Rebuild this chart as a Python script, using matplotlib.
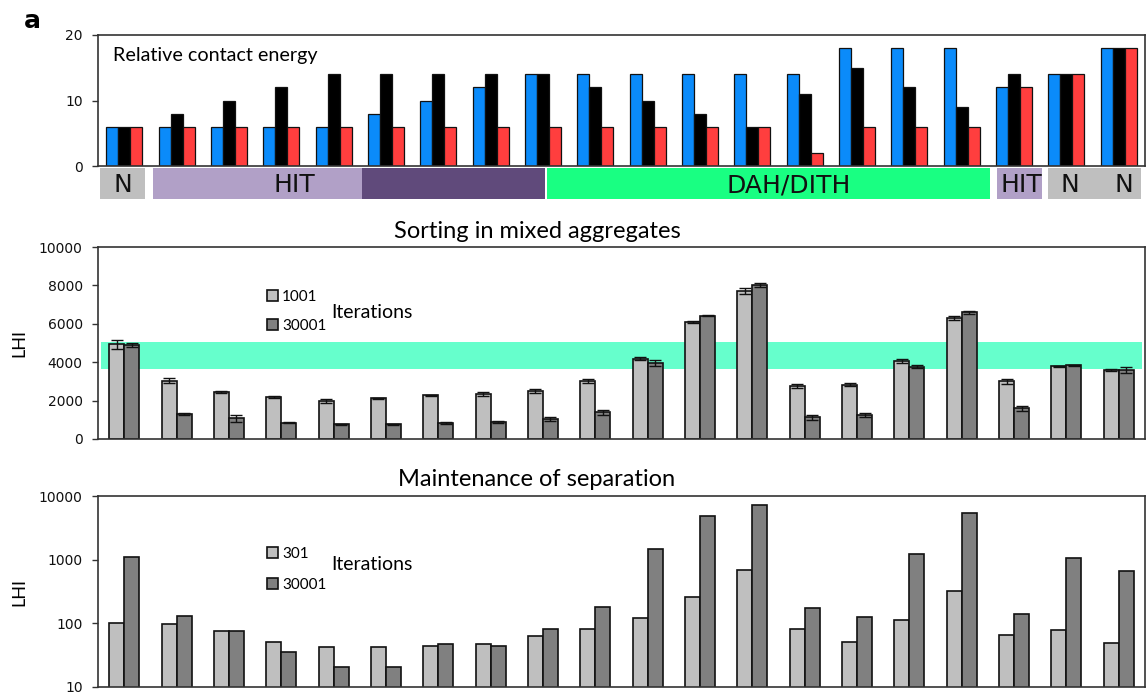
import matplotlib
matplotlib.use("Agg")
import matplotlib.pyplot as plt
from matplotlib.patches import Rectangle
import numpy as np

# ---------------- data ----------------
groups = list(range(1, 21))

# Relative contact energy (three contacts per condition)
energy_blue = [6, 6, 6, 6, 6, 8, 10, 12, 14, 14, 14, 14, 14, 14, 18, 18, 18, 12, 14, 18]
energy_black = [6, 8, 10, 12, 14, 14, 14, 14, 14, 12, 10, 8, 6, 11, 15, 12, 9, 14, 14, 18]
energy_red = [6, 6, 6, 6, 6, 6, 6, 6, 6, 6, 6, 6, 6, 2, 6, 6, 6, 12, 14, 18]

# Category band: spans in group units, colours, labels
band_starts = [0.04, 1.05, 5.04, 8.58, 17.17, 18.15]
band_ends = [0.90, 5.04, 8.54, 17.04, 18.03, 19.92]
band_colors = ["#BFBFBF", "#B1A0C7", "#604A7B", "#19FF82", "#B1A0C7", "#BFBFBF"]
band_labels = ["N", "HIT", "DAH/DITH", "HIT", "N", "N"]
band_label_x = [0.47, 3.76, 13.2, 17.63, 18.57, 19.6]

# Sorting in mixed aggregates (LHI)
sort_1001 = [4940, 3030, 2450, 2190, 1980, 2120, 2280, 2350, 2520, 3040,
             4170, 6090, 7720, 2770, 2820, 4070, 6310, 3000, 3790, 3580]
sort_1001_err = [230, 130, 60, 50, 110, 40, 30, 100, 110, 100,
                 80, 70, 150, 120, 80, 110, 120, 120, 30, 40]
sort_30001 = [4900, 1300, 1080, 850, 770, 770, 830, 900, 1030, 1390,
              3950, 6420, 8000, 1130, 1250, 3770, 6590, 1600, 3840, 3600]
sort_30001_err = [110, 30, 170, 40, 20, 30, 60, 60, 110, 120,
                  150, 30, 100, 130, 120, 90, 80, 120, 40, 150]
sort_band = (3650, 5050)

# Maintenance of separation (LHI, log scale)
maint_301 = [103, 96, 75, 51, 42, 42.6, 44.7, 47.5, 62.7, 81,
             122, 258, 700, 81, 50, 112, 320, 65, 78, 49.6]
maint_30001 = [1097, 129, 77, 36, 20.4, 20.4, 47.5, 43.6, 80.7, 180,
               1477, 4920, 7330, 173, 128, 1233, 5354, 140, 1055, 667]

# ---------------- style ----------------
W, H = 1148, 695
fig = plt.figure(figsize=(W / 100, H / 100), dpi=100)
plt.rcParams['font.family'] = ['DejaVu Sans']
TXT = ['Lato', 'DejaVu Sans']

BLUE = "#0B8BFA"
RED = "#FF3E3E"
LIGHT = "#BFBFBF"
DARK = "#808080"
SPINE = "#333333"


def fax(x0, y0, x1, y1):
    """axes from pixel box (top-left origin)"""
    return fig.add_axes([x0 / W, 1 - y1 / H, (x1 - x0) / W, (y1 - y0) / H])


def style(ax):
    for s in ax.spines.values():
        s.set_color(SPINE)
        s.set_linewidth(1.2)
    ax.tick_params(axis='y', which='major', length=4, width=1, color=SPINE,
                   labelsize=10, pad=7, labelcolor="#111111")
    ax.tick_params(axis='x', which='both', bottom=False, labelbottom=False)
    ax.set_xlim(0, 20)


x = np.arange(20) + 0.5

# ---------------- top panel ----------------
ax1 = fax(98, 35, 1145, 166)
wb = 0.229
ax1.bar(x - wb, energy_blue, wb, color=BLUE, edgecolor="#111111", linewidth=0.9)
ax1.bar(x, energy_black, wb, color="black", edgecolor="#111111", linewidth=0.9)
ax1.bar(x + wb, energy_red, wb, color=RED, edgecolor="#111111", linewidth=0.9)
ax1.set_ylim(0, 20)
ax1.set_yticks([0, 10, 20])
style(ax1)
ax1.text(0.014, 0.84, "Relative contact energy", transform=ax1.transAxes,
         family=TXT, fontsize=14.2, va='center', ha='left')

# category band
axb = fax(98, 168, 1145, 199)
axb.set_xlim(0, 20)
axb.set_ylim(0, 1)
axb.axis('off')
for s0, s1, c in zip(band_starts, band_ends, band_colors):
    axb.add_patch(Rectangle((s0, 0), s1 - s0, 1, facecolor=c, edgecolor='none'))
for lab, lx in zip(band_labels, band_label_x):
    axb.text(lx, 0.45, lab, ha='center', va='center', fontsize=18, color='#111111')

fig.text(24 / W, 1 - 21 / H, "a", fontsize=18, fontweight='bold', va='center', ha='left')

# ---------------- middle panel ----------------
ax2 = fax(98, 247, 1145, 439)
w2 = 0.287
ax2.axhspan(sort_band[0], sort_band[1], xmin=0.003, xmax=0.997,
            color="#66FFCC", zorder=0, linewidth=0)
ekw = dict(ecolor='#111111', elinewidth=1, capsize=4, capthick=1)
b1 = ax2.bar(x - w2 / 2, sort_1001, w2, yerr=sort_1001_err, color=LIGHT,
             edgecolor="#111111", linewidth=1.2, error_kw=ekw, zorder=2, label="1001")
b2 = ax2.bar(x + w2 / 2, sort_30001, w2, yerr=sort_30001_err, color=DARK,
             edgecolor="#111111", linewidth=1.2, error_kw=ekw, zorder=2, label="30001")
ax2.set_ylim(0, 10000)
ax2.set_yticks(range(0, 10001, 2000))
style(ax2)
ax2.set_ylabel("LHI", family=TXT, fontsize=13, labelpad=8)
ax2.legend(handles=[b1, b2], loc='upper left', bbox_to_anchor=(0.154, 0.815),
           frameon=False, handlelength=0.7, handleheight=0.7,
           handletextpad=0.3, labelspacing=0.95, borderpad=0,
           prop={'family': TXT, 'size': 11})
ax2.text((331 - 98) / 1047, 1 - (312 - 247) / 192, "Iterations", transform=ax2.transAxes,
         family=TXT, fontsize=14, va='center', ha='left')
fig.text(537 / W, 1 - 232 / H, "Sorting in mixed aggregates", family=TXT,
         fontsize=17, ha='center', va='center')

# ---------------- bottom panel ----------------
ax3 = fax(98, 496, 1145, 687)
b3 = ax3.bar(x - w2 / 2, maint_301, w2, color=LIGHT, edgecolor="#111111",
             linewidth=1.2, label="301", zorder=2)
b4 = ax3.bar(x + w2 / 2, maint_30001, w2, color=DARK, edgecolor="#111111",
             linewidth=1.2, label="30001", zorder=2)
ax3.set_yscale('log')
ax3.set_ylim(10, 10000)
ax3.set_yticks([10, 100, 1000, 10000])
ax3.set_yticklabels(["10", "100", "1000", "10000"])
ax3.minorticks_off()
style(ax3)
ax3.set_ylabel("LHI", family=TXT, fontsize=13, labelpad=8)
ax3.legend(handles=[b3, b4], loc='upper left', bbox_to_anchor=(0.154, 0.772),
           frameon=False, handlelength=0.7, handleheight=0.7,
           handletextpad=0.3, labelspacing=1.1, borderpad=0,
           prop={'family': TXT, 'size': 11})
ax3.text((331 - 98) / 1047, 1 - (564 - 496) / 191, "Iterations", transform=ax3.transAxes,
         family=TXT, fontsize=14, va='center', ha='left')
fig.text(537 / W, 1 - 480 / H, "Maintenance of separation", family=TXT,
         fontsize=17, ha='center', va='center')

fig.savefig("out.png", dpi=100)
